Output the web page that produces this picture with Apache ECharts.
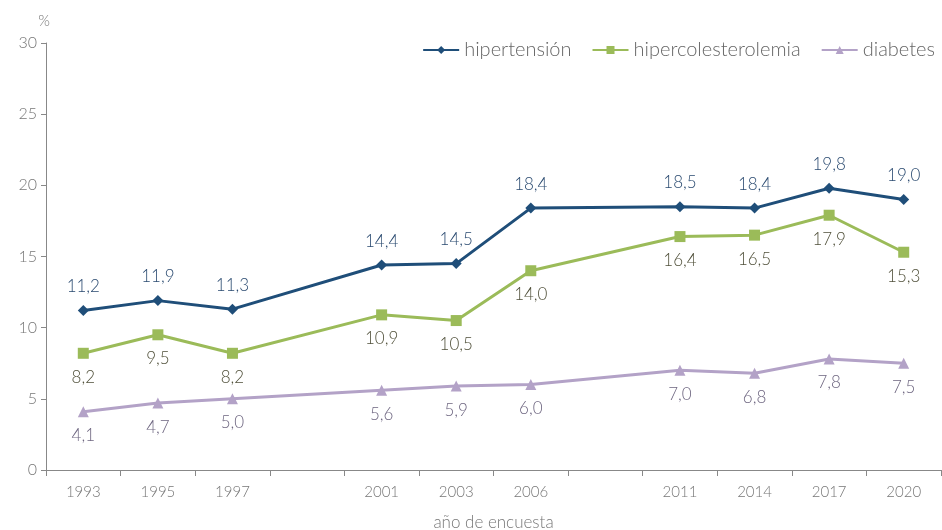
<!DOCTYPE html>
<html><head><meta charset="utf-8">
<script src="https://cdn.jsdelivr.net/npm/echarts@6/dist/echarts.min.js"></script>
<style>html,body{margin:0;padding:0;background:#fff}#c{width:942px;height:530px}</style>
</head><body><div id="c"></div>
<script>
const categories = ['1993','1995','1997','','2001','2003','2006','','2011','2014','2017','2020'];
const hipertension = [11.2, 11.9, 11.3, null, 14.4, 14.5, 18.4, null, 18.5, 18.4, 19.8, 19.0];
const hipercolesterolemia = [8.2, 9.5, 8.2, null, 10.9, 10.5, 14.0, null, 16.4, 16.5, 17.9, 15.3];
const diabetes = [4.1, 4.7, 5.0, null, 5.6, 5.9, 6.0, null, 7.0, 6.8, 7.8, 7.5];
const yTicks = [0, 5, 10, 15, 20, 25, 30];

const font = 'Lato';
const fmt = p => p.value == null ? '' : p.value.toFixed(1).replace('.', ',');
function mk(name, data, color, symbol, size, pos, labelColor) {
  return {
    name, type: 'line', data, connectNulls: true,
    symbol, symbolSize: size, showAllSymbol: true,
    lineStyle: {color, width: 3}, itemStyle: {color},
    label: {show: true, position: pos, distance: 10, formatter: fmt,
            color: labelColor, fontFamily: font, fontSize: 17, fontWeight: 300},
    emphasis: {disabled: true}
  };
}
const chart = echarts.init(document.getElementById('c'), null, {renderer: 'canvas'});
chart.setOption({
  animation: false,
  grid: {left: 46, right: 1, top: 43, bottom: 60, containLabel: false, outerBoundsMode: 'none'},
  legend: {
    right: 2, top: 35, itemWidth: 36, itemHeight: 10, itemGap: 20,
    textStyle: {color: '#666', fontFamily: font, fontSize: 20, fontWeight: 300},
    data: ['hipertensión', 'hipercolesterolemia', 'diabetes']
  },
  xAxis: {
    type: 'category', data: categories, boundaryGap: true,
    name: 'año de encuesta', nameLocation: 'middle', nameGap: 44,
    nameTextStyle: {color: '#777', fontFamily: font, fontSize: 17, fontWeight: 300},
    axisLine: {lineStyle: {color: '#888', width: 1}},
    axisTick: {show: true, alignWithLabel: false, length: 6, lineStyle: {color: '#888'}},
    axisLabel: {color: '#777', fontFamily: font, fontSize: 15, fontWeight: 300, margin: 15, interval: 0}
  },
  yAxis: {
    type: 'value', min: 0, max: 30, interval: 5,
    name: '%', nameLocation: 'end', nameGap: 14,
    nameTextStyle: {color: '#777', fontFamily: font, fontSize: 15, fontWeight: 300, align: 'right', padding: [0, -4, 0, 0]},
    axisLine: {show: true, lineStyle: {color: '#888', width: 1}},
    axisTick: {show: true, length: 5, lineStyle: {color: '#888'}},
    splitLine: {show: false},
    axisLabel: {color: '#777', fontFamily: font, fontSize: 16, fontWeight: 300, margin: 9,
                formatter: v => yTicks.includes(v) ? String(v) : ''}
  },
  series: [
    mk('hipertensión', hipertension, '#1F4E79', 'diamond', 11, 'top', '#2a4a70'),
    mk('hipercolesterolemia', hipercolesterolemia, '#9BBB59', 'rect', 11, 'bottom', '#50503a'),
    mk('diabetes', diabetes, '#B3A2C7', 'triangle', 11, 'bottom', '#6e6680')
  ]
});
</script></body></html>
